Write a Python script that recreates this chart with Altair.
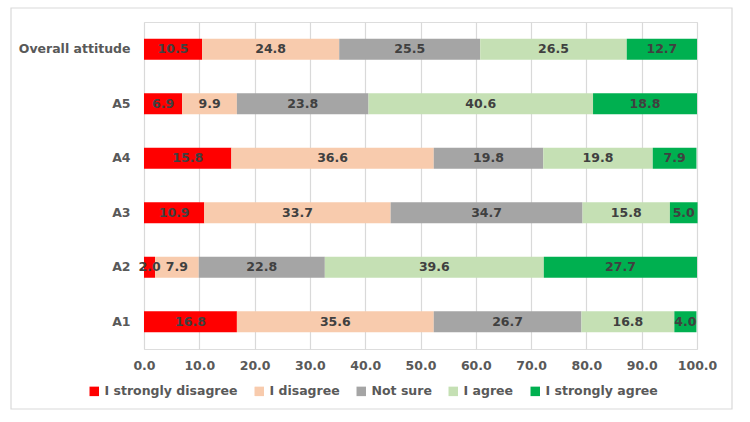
import altair as alt
import pandas as pd

items = ["Overall attitude", "A5", "A4", "A3", "A2", "A1"]
categories = ["I strongly disagree", "I disagree", "Not sure", "I agree", "I strongly agree"]
colors = ["#FF0000", "#F8CBAD", "#A5A5A5", "#C5E0B4", "#00B050"]
values = {
    "Overall attitude": [10.5, 24.8, 25.5, 26.5, 12.7],
    "A5": [6.9, 9.9, 23.8, 40.6, 18.8],
    "A4": [15.8, 36.6, 19.8, 19.8, 7.9],
    "A3": [10.9, 33.7, 34.7, 15.8, 5.0],
    "A2": [2.0, 7.9, 22.8, 39.6, 27.7],
    "A1": [16.8, 35.6, 26.7, 16.8, 4.0],
}
x_ticks = [0, 10, 20, 30, 40, 50, 60, 70, 80, 90, 100]

rows = []
for it in items:
    for i, (c, v) in enumerate(zip(categories, values[it])):
        rows.append({"item": it, "cat": c, "order": i, "value": v})
df = pd.DataFrame(rows)

FONT = "DejaVu Sans"
FS = 12.5
GRAY = "#595959"

base = alt.Chart(df).transform_stack(
    stack="value", as_=["x0", "x1"], groupby=["item"], sort=[alt.SortField("order")]
).transform_calculate(mid="(datum.x0 + datum.x1) / 2")

y_enc = alt.Y(
    "item:N",
    sort=items,
    scale=alt.Scale(paddingInner=0, paddingOuter=0),
    axis=alt.Axis(
        title=None, domain=False, ticks=False, labelPadding=14,
        labelFont=FONT, labelFontSize=FS, labelFontWeight="bold", labelColor=GRAY,
    ),
)

bars = base.mark_bar(size=21).encode(
    x=alt.X(
        "x0:Q",
        scale=alt.Scale(domain=[0, 100], nice=False),
        axis=alt.Axis(
            title=None, values=x_ticks, format=".1f", domain=False, ticks=False,
            grid=True, gridColor="#D9D9D9", gridWidth=1.2, labelPadding=10,
            labelFlush=False, labelOverlap=False,
            labelFont=FONT, labelFontSize=FS, labelFontWeight="bold", labelColor=GRAY,
        ),
    ),
    x2="x1:Q",
    y=y_enc,
    color=alt.Color(
        "cat:N",
        sort=categories,
        scale=alt.Scale(domain=categories, range=colors),
        legend=alt.Legend(
            title=None, orient="none", direction="horizontal", legendX=-56, legendY=363,
            symbolType="square", symbolSize=90, symbolStrokeWidth=0, columnPadding=15,
            labelFont=FONT, labelFontSize=FS, labelFontWeight="bold", labelColor=GRAY,
            labelOffset=4,
        ),
    ),
    order=alt.Order("order:Q"),
)

labels = base.mark_text(
    font=FONT, fontSize=FS, fontWeight="bold", color="#404040", baseline="middle"
).encode(
    x=alt.X("mid:Q"),
    y=alt.Y("item:N", sort=items),
    text=alt.Text("value:Q", format=".1f"),
)

frame = alt.Chart(pd.DataFrame({"a": [0]})).mark_rect(
    fill=None, stroke="#D9D9D9", strokeWidth=1.2, clip=False
).encode(
    x=alt.value(-133), x2=alt.value(588), y=alt.value(-14), y2=alt.value(387)
)

chart = alt.layer(frame, bars, labels).properties(
    width=553, height=327,
    padding={"left": 144, "top": 22, "right": 53, "bottom": 73},
    autosize=alt.AutoSizeParams(type="none"),
).configure_view(stroke=None).configure(background="white")

chart.save("out.html", embed_options={"renderer": "svg", "actions": False})
